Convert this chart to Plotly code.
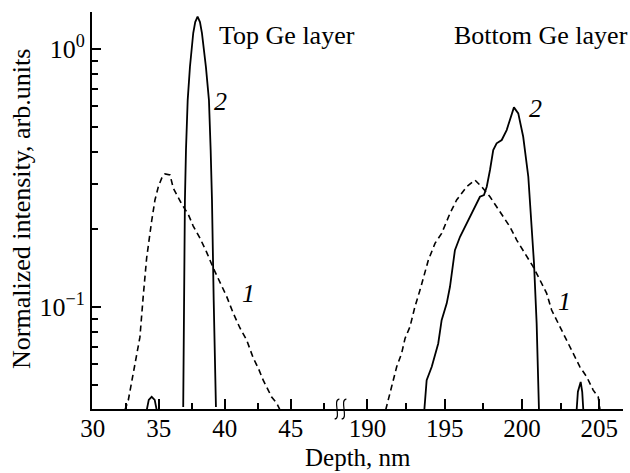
import plotly.graph_objects as go

# ---- data ----
# Top Ge layer, curve 2 (solid)
top2_x = [34.10, 34.25, 34.47, 34.70, 34.85, None,
          36.86, 36.92, 36.99, 37.07, 37.20, 37.37, 37.62, 37.77, 37.95, 38.13, 38.28, 38.58, 38.81,
          38.94, 39.04, 39.17, 39.34]
top2_y = [0.040, 0.0437, 0.0449, 0.0437, 0.040, None,
          0.041, 0.1064, 0.260, 0.406, 0.634, 0.852, 1.153, 1.272, 1.334, 1.272, 1.153, 0.852, 0.634,
          0.406, 0.260, 0.1064, 0.041]
# Top Ge layer, curve 1 (dashed)
top1_x = [32.45, 32.70, 33.05, 33.28, 33.58, 33.83, 34.09, 34.47, 34.72, 34.97, 35.23, 35.48, 35.86,
          36.11, 36.39, 36.74, 37.24, 37.62, 38.13, 38.64, 39.14, 39.64, 40.15, 40.65, 41.16, 41.67,
          42.17, 42.55, 42.92, 43.30, 43.56, 43.94, 44.19]
top1_y = [0.040, 0.0436, 0.0545, 0.0623, 0.0765, 0.110, 0.155, 0.2156, 0.260, 0.292, 0.316, 0.328, 0.325,
          0.289, 0.272, 0.251, 0.229, 0.206, 0.185, 0.163, 0.1416, 0.125, 0.110, 0.0948, 0.083, 0.0745,
          0.0634, 0.058, 0.0521, 0.0477, 0.0448, 0.0425, 0.040]
# Bottom Ge layer, curve 2 (solid)
bot2_x = [193.68, 193.83, 194.16, 194.58, 194.80, 195.13, 195.34, 195.66, 195.99, 196.42, 196.85,
          197.28, 197.54, 197.72, 197.93, 198.14, 198.36, 198.69, 199.01, 199.33, 199.48, 199.76,
          200.08, 200.41, 200.63, 200.78, 200.95, 201.10, None,
          203.54, 203.62, 203.80, 203.90, 203.97]
bot2_y = [0.040, 0.0521, 0.0587, 0.0723, 0.0890, 0.1034, 0.1199, 0.1663, 0.1873, 0.2111, 0.2377,
          0.2676, 0.2717, 0.2926, 0.3398, 0.406, 0.431, 0.444, 0.4853, 0.563, 0.594, 0.563,
          0.457, 0.320, 0.2111, 0.1477, 0.0865, 0.040, None,
          0.040, 0.047, 0.0513, 0.047, 0.040]
# Bottom Ge layer, curve 1 (dashed)
bot1_x = [191.18, 191.57, 191.89, 192.21, 192.43, 192.75, 193.07, 193.40, 193.72, 193.94, 194.37,
          194.80, 195.34, 195.77, 196.42, 196.96, 197.39, 197.93, 198.36, 198.79, 199.22, 199.66,
          200.08, 200.73, 201.17, 201.60, 201.92, 202.35, 202.78, 203.22, 203.75, 204.19, 204.61,
          204.94, 205.05]
bot1_y = [0.040, 0.0499, 0.0587, 0.0662, 0.0756, 0.0839, 0.1003, 0.1164, 0.1351, 0.1521, 0.1766,
          0.193, 0.2307, 0.260, 0.2926, 0.3106, 0.2926, 0.2676, 0.2447, 0.2239, 0.2048, 0.1818,
          0.1663, 0.1432, 0.1272, 0.1130, 0.0974, 0.0865, 0.0767, 0.0681, 0.0587, 0.0537, 0.0477,
          0.0448, 0.040]

y_tickvals = [0.1, 1]
y_ticktext = ["10<sup>\u22121</sup>", "10<sup>0</sup>"]
y_minor = [0.05, 0.06, 0.07, 0.08, 0.09, 0.2, 0.3, 0.4, 0.5, 0.6, 0.7, 0.8, 0.9]

FONT = "Liberation Serif"
solid = dict(color="black", width=1.8)
dashed = dict(color="black", width=1.6, dash="6px,4px")

fig = go.Figure()
fig.add_trace(go.Scatter(x=top2_x, y=top2_y, mode="lines", line=solid, xaxis="x", yaxis="y", showlegend=False))
fig.add_trace(go.Scatter(x=top1_x, y=top1_y, mode="lines", line=dashed, xaxis="x", yaxis="y", showlegend=False))
fig.add_trace(go.Scatter(x=bot2_x, y=bot2_y, mode="lines", line=solid, xaxis="x2", yaxis="y", showlegend=False))
fig.add_trace(go.Scatter(x=bot1_x, y=bot1_y, mode="lines", line=dashed, xaxis="x2", yaxis="y", showlegend=False))

split = 0.4708
xcommon = dict(showline=True, linecolor="black", linewidth=2, ticks="inside", ticklen=10,
               tickwidth=1.5, tickcolor="black", showgrid=False, zeroline=False, automargin=False,
               ticklabelstandoff=-4,
               tickfont=dict(family=FONT, size=25, color="black"),
               minor=dict(dtick=2.5, ticks="inside", ticklen=6, tickwidth=1.5, tickcolor="black", showgrid=False))

fig.update_layout(
    width=630, height=473,
    margin=dict(l=92, r=7, t=12, b=64, autoexpand=False),
    paper_bgcolor="white", plot_bgcolor="white",
    xaxis=dict(domain=[0, split], range=[29.95, 48.89], tick0=30, dtick=5, anchor="y", **xcommon),
    xaxis2=dict(domain=[split, 1], range=[188.35, 206.54], tick0=190, dtick=5, anchor="y", **xcommon),
    yaxis=dict(type="log", range=[-1.3947, 0.1433], showline=True, linecolor="black", linewidth=2,
               ticks="inside", ticklen=9, tickwidth=1.5, tickcolor="black", showgrid=False,
               zeroline=False, tickmode="array", tickvals=y_tickvals, ticktext=y_ticktext,
               ticklabelstandoff=0, automargin=False,
               tickfont=dict(family=FONT, size=26, color="black"),
               minor=dict(tickmode="array", tickvals=y_minor, ticks="inside", ticklen=6,
                          tickwidth=1.5, tickcolor="black", showgrid=False)),
)

def ann(text, x, y, xanchor="center", yanchor="middle", size=26, angle=0):
    fig.add_annotation(text=text, x=x, y=y, xref="paper", yref="paper", showarrow=False,
                       xanchor=xanchor, yanchor=yanchor, textangle=angle,
                       font=dict(family=FONT, size=size, color="black"))

ann("Top Ge layer", 0.2354, 0.942, xanchor="left")
ann("Bottom Ge layer", 0.678, 0.942, xanchor="left")
ann("<i>2</i>", 0.2411, 0.7758)
ann("<i>2</i>", 0.8343, 0.7557)
ann("<i>1</i>", 0.2947, 0.2897)
ann("<i>1</i>", 0.8889, 0.272)
ann("Normalized intensity, arb.units", -0.1318, 0.5038, angle=-90)
ann("Depth, nm", 0.5, -0.121, size=25)

# axis-break squiggles
def squiggle(xc):
    d, top, bot = 0.0045, 0.025, -0.025
    return (f"M {xc + d},{top} C {xc - 2*d},{top} {xc + 2*d},{bot} {xc - d},{bot}")

for xc in (0.4614, 0.4746):
    fig.add_shape(type="path", path=squiggle(xc), xref="paper", yref="paper",
                  line=dict(color="black", width=1.2))

fig.write_html("out.html", config={"displayModeBar": False},
               post_script="document.body.style.margin='0px';document.body.style.overflow='hidden';")
